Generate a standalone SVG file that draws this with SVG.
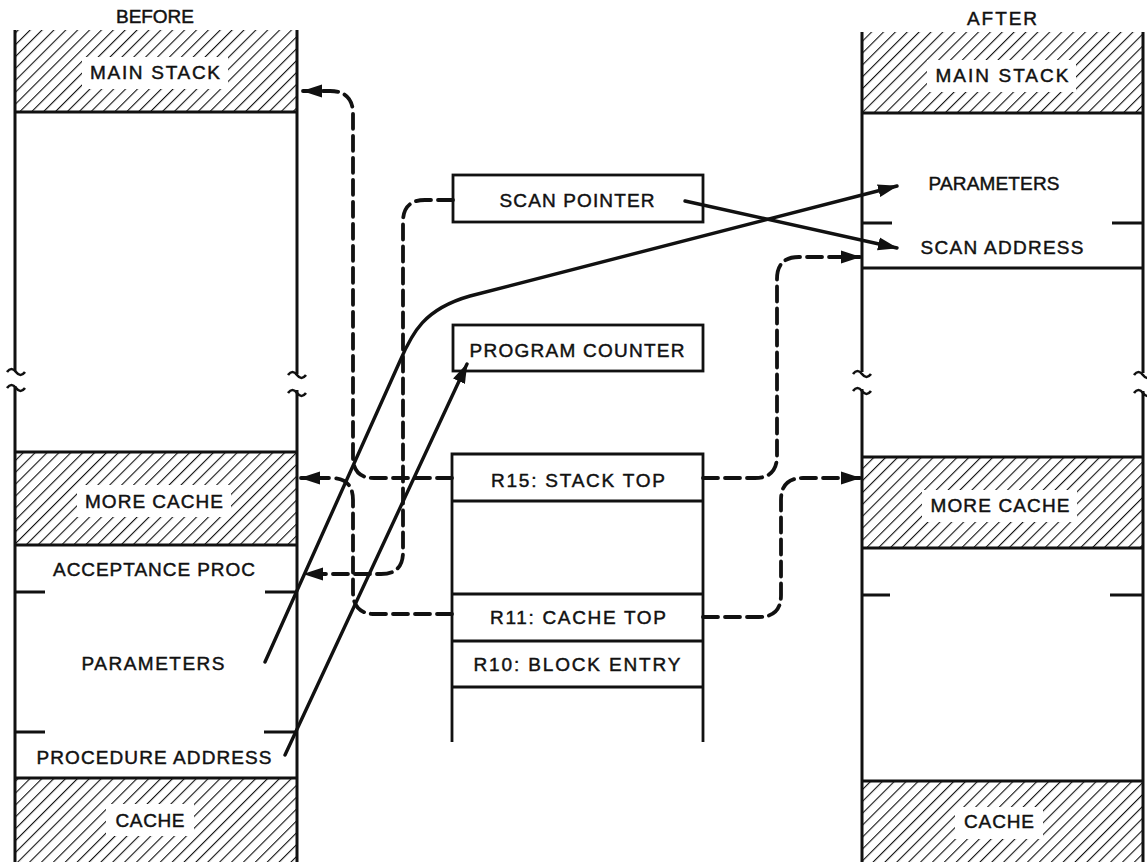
<svg xmlns="http://www.w3.org/2000/svg" width="1147" height="862" viewBox="0 0 1147 862">
  <defs>
    <pattern id="hatch" patternUnits="userSpaceOnUse" width="8.4" height="8.4" patternTransform="rotate(45)">
      <line x1="0" y1="0" x2="0" y2="8.4" stroke="#111" stroke-width="2.2"/>
    </pattern>
    <marker id="head" markerUnits="userSpaceOnUse" markerWidth="20" markerHeight="14" refX="19" refY="7" orient="auto">
      <path d="M0,0.5 L20,7 L0,13.5 z" fill="#111"/>
    </marker>
  </defs>
  <style>
    .lbl { font-family: "Liberation Sans", Arial, sans-serif; font-size: 19px; fill: #111; stroke: #111; stroke-width: 0.45; text-anchor: middle; }
    .wall { stroke: #111; stroke-width: 3; fill: none; }
    .rule { stroke: #111; stroke-width: 2.8; fill: none; }
    .hatch { fill: url(#hatch); }
    .gap { fill: #fff; }
    .box { fill: #fff; stroke: #111; stroke-width: 2.8; }
    .tilde { stroke: #111; stroke-width: 2.6; fill: none; }
    .dash { stroke: #111; stroke-width: 3.8; fill: none; stroke-dasharray: 15 7; stroke-linecap: round; marker-end: url(#head); }
    .solid { stroke: #111; stroke-width: 3.4; fill: none; stroke-linecap: round; marker-end: url(#head); }
  </style>
  <rect width="1147" height="862" fill="#fff"/>

  <!-- BEFORE memory column -->
  <g id="before-column">
    <text class="lbl" x="155" y="23" textLength="78" lengthAdjust="spacing">BEFORE</text>
    <rect class="hatch" x="15" y="30" width="282" height="82"/>
    <rect class="gap" x="82" y="57" width="146" height="32"/>
    <text class="lbl" x="155" y="79" textLength="130" lengthAdjust="spacing">MAIN STACK</text>
    <rect class="hatch" x="15" y="452" width="282" height="93"/>
    <rect class="gap" x="77" y="485" width="154" height="32"/>
    <text class="lbl" x="154" y="508" textLength="138" lengthAdjust="spacing">MORE CACHE</text>
    <text class="lbl" x="154" y="576" textLength="202" lengthAdjust="spacing">ACCEPTANCE PROC</text>
    <text class="lbl" x="153" y="670" textLength="143" lengthAdjust="spacing">PARAMETERS</text>
    <text class="lbl" x="154" y="764" textLength="235" lengthAdjust="spacing">PROCEDURE ADDRESS</text>
    <rect class="hatch" x="15" y="778" width="282" height="84"/>
    <rect class="gap" x="106" y="804" width="88" height="32"/>
    <text class="lbl" x="150" y="827" textLength="69" lengthAdjust="spacing">CACHE</text>
    <path class="wall" d="M15,30 V371 M15,386 V862 M297,30 V374 M297,390 V862"/>
    <path class="rule" d="M15,112 H297 M15,452 H297 M15,545 H297 M15,778 H297 M15,592 H45 M265,592 H297 M15,732 H45 M264,732 H297"/>
    <path class="tilde" d="M7,372 q4.5,-6 9,0 t9,0 M7,388 q4.5,-6 9,0 t9,0 M288,375 q4.5,-6 9,0 t9,0 M288,393 q4.5,-6 9,0 t9,0"/>
  </g>

  <!-- Register boxes -->
  <g id="scan-pointer">
    <rect class="box" x="453" y="175" width="250" height="47"/>
    <text class="lbl" x="577" y="207" textLength="155" lengthAdjust="spacing">SCAN POINTER</text>
  </g>
  <g id="program-counter">
    <rect class="box" x="453" y="325" width="250" height="46"/>
    <text class="lbl" x="577" y="357" textLength="215" lengthAdjust="spacing">PROGRAM COUNTER</text>
  </g>
  <g id="registers">
    <path class="rule" d="M452,742 V454 H703 V742 M452,501 H703 M452,594 H703 M452,641 H703 M452,687 H703"/>
    <text class="lbl" x="578" y="487" textLength="174" lengthAdjust="spacing">R15:  STACK TOP</text>
    <text class="lbl" x="578" y="624" textLength="176" lengthAdjust="spacing">R11:  CACHE TOP</text>
    <text class="lbl" x="577" y="671" textLength="207" lengthAdjust="spacing">R10:  BLOCK ENTRY</text>
  </g>

  <!-- AFTER memory column -->
  <g id="after-column">
    <text class="lbl" x="1002" y="25" textLength="70" lengthAdjust="spacing">AFTER</text>
    <rect class="hatch" x="862" y="32" width="281" height="81"/>
    <rect class="gap" x="927" y="60" width="149" height="32"/>
    <text class="lbl" x="1002" y="82" textLength="133" lengthAdjust="spacing">MAIN STACK</text>
    <text class="lbl" x="994" y="190" textLength="131" lengthAdjust="spacing">PARAMETERS</text>
    <text class="lbl" x="1002" y="254" textLength="163" lengthAdjust="spacing">SCAN ADDRESS</text>
    <rect class="hatch" x="862" y="457" width="281" height="91"/>
    <rect class="gap" x="922" y="490" width="155" height="32"/>
    <text class="lbl" x="1000" y="512" textLength="139" lengthAdjust="spacing">MORE CACHE</text>
    <rect class="hatch" x="862" y="781" width="281" height="81"/>
    <rect class="gap" x="955" y="807" width="88" height="32"/>
    <text class="lbl" x="999" y="828" textLength="70" lengthAdjust="spacing">CACHE</text>
    <path class="wall" d="M862,32 V372 M862,389 V862 M1143,32 V373 M1143,391 V862"/>
    <path class="rule" d="M862,113 H1143 M862,268 H1143 M862,457 H1143 M862,548 H1143 M862,781 H1143 M862,223 H892 M1112,223 H1143 M862,595 H890 M1110,595 H1143"/>
    <path class="tilde" d="M853,374 q4.5,-6 9,0 t9,0 M853,391 q4.5,-6 9,0 t9,0 M1134,375 q4.5,-6 9,0 t9,0 M1134,393 q4.5,-6 9,0 t9,0"/>
  </g>

  <!-- Pointer connectors -->
  <g id="connectors">
    <path class="dash" d="M452,478 L374,478 Q353,478 353,457 L353,114 Q353,91 330,91 L303,91"/>
    <path class="dash" d="M452,614 L375,614 Q353,614 353,592 L353,500 Q353,478 331,478 L301,478"/>
    <path class="dash" d="M453,200 L425,200 Q403,200 403,222 L403,552 Q403,574 381,574 L304,574"/>
    <path class="dash" d="M703,478 L755,478 Q777,478 777,456 L777,279 Q777,257 799,257 L860,257"/>
    <path class="dash" d="M703,617 L759,617 Q781,617 781,595 L781,500 Q781,478 803,478 L860,478"/>
    <path class="solid" d="M265,662 L400,361 C412,333 424,309 470,296 L897,186"/>
    <path class="solid" d="M285,755 L467,364"/>
    <path class="solid" d="M685,201 L897,248"/>
  </g>
</svg>
